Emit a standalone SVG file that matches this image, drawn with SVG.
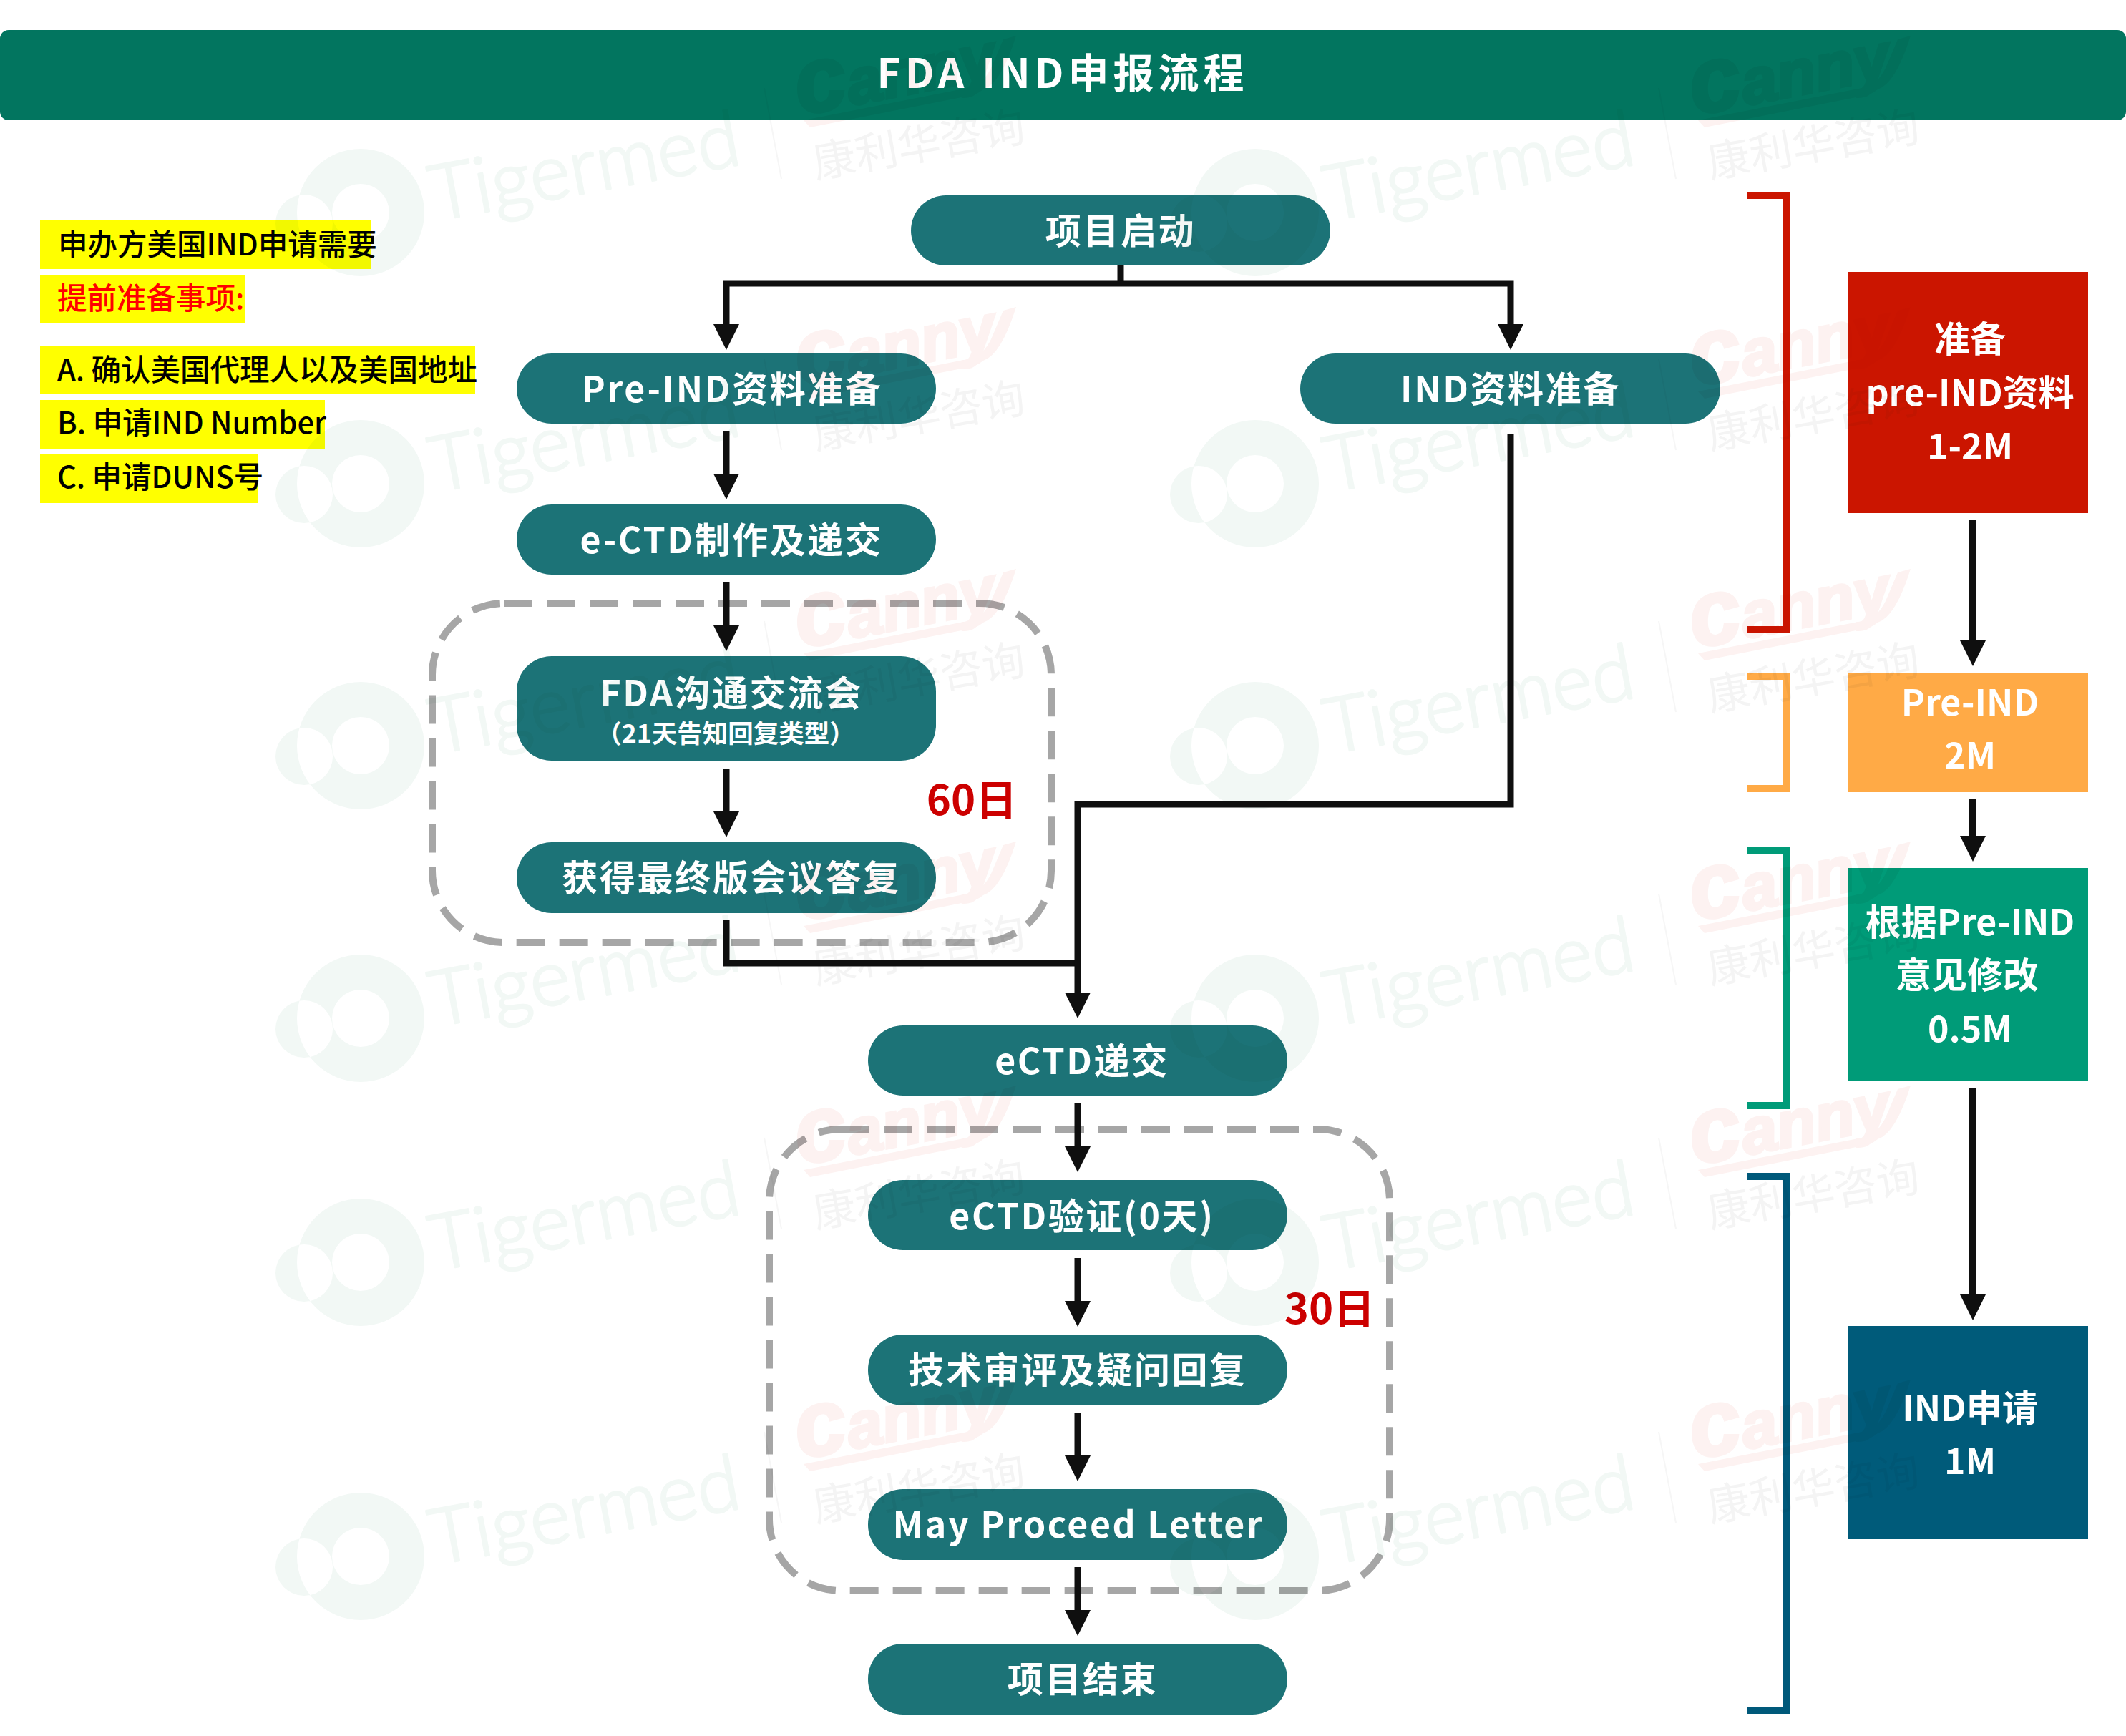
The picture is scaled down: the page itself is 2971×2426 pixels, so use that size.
<svg xmlns="http://www.w3.org/2000/svg" width="2971" height="2426" viewBox="0 0 2971 2426">
<style>
text{font-family:"Noto Sans CJK SC","Noto Sans",sans-serif}
.pill{fill:#1c7377}
.pt{fill:#fff;font-size:50px;font-weight:700;letter-spacing:2.6px;text-anchor:middle}
.side{fill:#fff;font-size:50px;font-weight:700;text-anchor:middle}
.note{font-size:41.5px;font-weight:500;fill:#000}
.hl{fill:#ffff00}
.days{font-size:58px;font-weight:700;fill:#cc0000;text-anchor:middle}
.dash{fill:none;stroke:#a6a6a6;stroke-width:10;stroke-dasharray:40 20}
.ln{fill:none;stroke:#0f0f0f;stroke-width:9}
.ln2{fill:none;stroke:#0f0f0f;stroke-width:10}
.br{fill:none;stroke-width:10}
#watermarks{mix-blend-mode:multiply}
</style>
<defs>
<marker id="ah" markerUnits="userSpaceOnUse" markerWidth="42" markerHeight="36" refX="0" refY="18" orient="auto"><path d="M0 0L36 18L0 36Z" fill="#0f0f0f"/></marker>
<g id="wm">
<path d="M89 0A89 89 0 1 1 -89 0A89 89 0 1 1 89 0ZM40 0A40 40 0 1 1 -40 0A40 40 0 1 1 40 0ZM-39 15A40 40 0 1 1 -119 15A40 40 0 1 1 -39 15Z" fill="#f2f8f5" fill-rule="evenodd"/>
<text transform="translate(104,12) rotate(-10.5)" style="font-family:Lato,sans-serif;font-size:108px;font-weight:300" fill="#f2f8f5" stroke="#f2f8f5" stroke-width="3" stroke-linejoin="round">Tigermed</text>
<path d="M564 -174L588 -47" stroke="#f6f6f6" stroke-width="2" fill="none"/>
<text transform="translate(614,-136) rotate(-11)" style="font-family:'Liberation Sans',sans-serif;font-weight:700;font-style:italic" fill="#fdf2f1" stroke="#fdf2f1" stroke-width="4"><tspan font-size="130">c</tspan><tspan font-size="90">anny</tspan></text>
<path d="M619 -129L853 -175Q870 -180 881 -202L898 -242L916 -247Q895 -180 870 -172Q860 -164 850 -163L628 -119Z" fill="#fdf2f1"/>
<text transform="translate(636,-48) rotate(-10)" style="font-size:60px" fill="#f4f4f4">康利华咨询</text>
</g>
</defs>
<rect width="2971" height="2426" fill="#fff"/>
<g id="header"><rect y="42" width="2971" height="126" rx="12" fill="#02755f"/><text x="1485" y="123" fill="#fff" style="font-size:57px;font-weight:700;letter-spacing:6px;text-anchor:middle">FDA IND申报流程</text></g>

<g id="notes">
<rect class="hl" x="56" y="308" width="463" height="68"/><text class="note" x="81" y="357">申办方美国IND申请需要</text>
<rect class="hl" x="56" y="384" width="286" height="67"/><text class="note" x="80" y="432" style="fill:#f00">提前准备事项:</text>
<rect class="hl" x="56" y="484" width="608" height="67"/><text class="note" x="80" y="532">A. 确认美国代理人以及美国地址</text>
<rect class="hl" x="56" y="559" width="398" height="68"/><text class="note" x="80" y="606">B. 申请IND Number</text>
<rect class="hl" x="56" y="635" width="304" height="68"/><text class="note" x="80" y="682">C. 申请DUNS号</text>
</g>

<g id="group-60"><rect class="dash" x="604" y="843" width="865" height="474" rx="100"/><text class="days" x="1358" y="1139">60日</text></g>
<g id="group-30"><rect class="dash" x="1075" y="1578" width="867" height="645" rx="100"/><text class="days" x="1858" y="1850">30日</text></g>

<g id="connectors">
<path class="ln" d="M1566 371V396"/>
<path class="ln" d="M1015 452V396H2111V452"/>
<path class="ln" d="M1015 452V453" marker-end="url(#ah)"/>
<path class="ln" d="M2111 452V453" marker-end="url(#ah)"/>
<path class="ln" d="M1015 602V662" marker-end="url(#ah)"/>
<path class="ln" d="M1015 814V874" marker-end="url(#ah)"/>
<path class="ln" d="M1015 1074V1134" marker-end="url(#ah)"/>
<path class="ln" d="M1015 1286V1346H1506"/>
<path class="ln" d="M2111 606V1124H1506V1387" marker-end="url(#ah)"/>
<path class="ln" d="M1506 1542V1602" marker-end="url(#ah)"/>
<path class="ln" d="M1506 1758V1818" marker-end="url(#ah)"/>
<path class="ln" d="M1506 1974V2034" marker-end="url(#ah)"/>
<path class="ln" d="M1506 2190V2250" marker-end="url(#ah)"/>
<path class="ln2" d="M2757 727V895" marker-end="url(#ah)"/>
<path class="ln2" d="M2757 1117V1168" marker-end="url(#ah)"/>
<path class="ln2" d="M2757 1520V1809" marker-end="url(#ah)"/>
</g>

<g id="n-start"><rect class="pill" x="1273" y="273" width="586" height="98" rx="49"/><text class="pt" x="1566" y="341">项目启动</text></g>
<g id="n-preind"><rect class="pill" x="722" y="494" width="586" height="98" rx="49"/><text class="pt" x="1023" y="562">Pre-IND资料准备</text></g>
<g id="n-ind"><rect class="pill" x="1817" y="494" width="587" height="98" rx="49"/><text class="pt" x="2111" y="562">IND资料准备</text></g>
<g id="n-ectd"><rect class="pill" x="722" y="705" width="586" height="98" rx="49"/><text class="pt" x="1022" y="773">e-CTD制作及递交</text></g>
<g id="n-fda"><rect class="pill" x="722" y="917" width="586" height="146" rx="49"/><text class="pt" x="1022" y="987">FDA沟通交流会</text><text x="1014" y="1038" fill="#fff" style="font-size:35.5px;font-weight:700;text-anchor:middle">（21天告知回复类型）</text></g>
<g id="n-reply"><rect class="pill" x="722" y="1177" width="586" height="99" rx="49"/><text class="pt" x="1022" y="1245">获得最终版会议答复</text></g>
<g id="n-submit"><rect class="pill" x="1213" y="1433" width="586" height="98" rx="49"/><text class="pt" x="1512" y="1501">eCTD递交</text></g>
<g id="n-verify"><rect class="pill" x="1213" y="1649" width="586" height="98" rx="49"/><text class="pt" x="1512" y="1718">eCTD验证(0天)</text></g>
<g id="n-review"><rect class="pill" x="1213" y="1865" width="586" height="99" rx="49"/><text class="pt" x="1506" y="1933">技术审评及疑问回复</text></g>
<g id="n-may"><rect class="pill" x="1213" y="2081" width="586" height="99" rx="49"/><text class="pt" x="1507" y="2149">May Proceed Letter</text></g>
<g id="n-end"><rect class="pill" x="1213" y="2297" width="586" height="99" rx="49"/><text class="pt" x="1513" y="2365">项目结束</text></g>

<g id="brackets">
<path class="br" stroke="#cb1500" d="M2441 273H2496V880H2441"/>
<path class="br" stroke="#ffaa46" d="M2441 945H2496V1102H2441"/>
<path class="br" stroke="#009b78" d="M2441 1189H2496V1545H2441"/>
<path class="br" stroke="#00597a" d="M2441 1644H2496V2390H2441"/>
</g>

<g id="s-prep"><rect x="2583" y="380" width="335" height="337" fill="#cb1500"/><text class="side" x="2753" y="492">准备</text><text class="side" x="2753" y="567">pre-IND资料</text><text class="side" x="2753" y="642">1-2M</text></g>
<g id="s-pre"><rect x="2583" y="940" width="335" height="167" fill="#ffaa46"/><text class="side" x="2753" y="1000">Pre-IND</text><text class="side" x="2753" y="1074">2M</text></g>
<g id="s-mod"><rect x="2583" y="1213" width="335" height="297" fill="#009b78"/><text class="side" x="2753" y="1307">根据Pre-IND</text><text class="side" x="2749" y="1381">意见修改</text><text class="side" x="2753" y="1456">0.5M</text></g>
<g id="s-ind"><rect x="2583" y="1853" width="335" height="298" fill="#005b7a"/><text class="side" x="2753" y="1986">IND申请</text><text class="side" x="2753" y="2060">1M</text></g>

<g id="watermarks">
<use href="#wm" x="504" y="297"/><use href="#wm" x="1754" y="297"/>
<use href="#wm" x="504" y="676"/><use href="#wm" x="1754" y="676"/>
<use href="#wm" x="504" y="1042"/><use href="#wm" x="1754" y="1042"/>
<use href="#wm" x="504" y="1423"/><use href="#wm" x="1754" y="1423"/>
<use href="#wm" x="504" y="1764"/><use href="#wm" x="1754" y="1764"/>
<use href="#wm" x="504" y="2175"/><use href="#wm" x="1754" y="2175"/>
</g>
</svg>
